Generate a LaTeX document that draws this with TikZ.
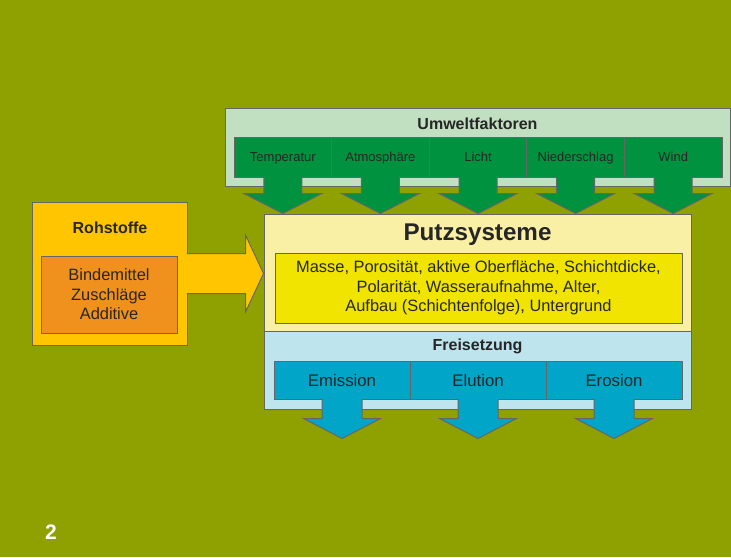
\documentclass[tikz,border=0pt]{standalone}
\usepackage{fontspec}
\setmainfont{Liberation Sans}
\usetikzlibrary{positioning}

\definecolor{olivebg}{RGB}{143,161,0}
\definecolor{umweltlight}{RGB}{193,223,193}
\definecolor{umweltgreen}{RGB}{0,146,63}
\definecolor{putzlight}{RGB}{250,240,165}
\definecolor{putzyellow}{RGB}{240,228,0}
\definecolor{freilight}{RGB}{190,228,238}
\definecolor{freiblue}{RGB}{0,165,200}
\definecolor{rohyellow}{RGB}{255,198,0}
\definecolor{rohorange}{RGB}{240,145,30}

\begin{document}
\begin{tikzpicture}[x=0.5pt,y=-0.5pt,font=\fontsize{8.2}{9.75}\selectfont,
    % styles
    frame/.style={draw=black!60,line width=0.5pt,inner sep=0pt,text=black!85},
    title/.style={font=\fontsize{8}{9.75}\selectfont\bfseries,text=black!85},
    umwelt box/.style={frame,fill=umweltlight,minimum width=252.5pt,minimum height=39pt},
    factor box/.style={frame,fill=umweltgreen,minimum width=48.8pt,minimum height=20pt,
      font=\fontsize{6.5}{7}\selectfont,text height=4.7pt,text depth=0pt},
    putz box/.style={frame,fill=putzlight,minimum width=213.5pt,minimum height=58.5pt},
    property box/.style={frame,fill=putzyellow,minimum width=203.5pt,minimum height=35pt,
      align=center},
    frei box/.style={frame,fill=freilight,minimum width=213.5pt,minimum height=39pt},
    release box/.style={frame,fill=freiblue,minimum width=68pt,minimum height=19pt,
      font=\fontsize{8.4}{9}\selectfont,text height=6pt,text depth=0pt},
    roh box/.style={frame,fill=rohyellow,minimum width=77.5pt,minimum height=71.5pt},
    material box/.style={frame,fill=rohorange,minimum width=68pt,minimum height=38.5pt,
      align=center},
    block arrow/.style={draw=black!60,line width=0.5pt,line join=miter}]

  % background
  \fill[olivebg] (0,0) rectangle (731,557);

  % environment factors
  \node[umwelt box] (umwelt) at (477.5,147) {};
  \node[title] (umwelttitle) at (477.5,124) {Umweltfaktoren};
  \foreach \lbl [count=\i] in {Temperatur,Atmosphäre,Licht,Niederschlag,Wind}
    \node[factor box] (g\i) at ({234+48.8*(2*\i-1)},157) {\lbl};

  % raw materials
  \node[roh box] (roh) at (109.5,273.5) {};
  \node[title] (rohtitle) at (110,228) {Rohstoffe};
  \node[material box] (material) at (109,294.5) {Bindemittel\\Zuschläge\\Additive};

  % plaster system
  \node[putz box] (putz) at (477.5,272.5) {};
  \node[title,font=\fontsize{12.1}{14}\selectfont\bfseries] (putztitle) at (477.5,235) {Putzsysteme};
  \node[property box] (props) at (478.5,288)
    {Masse, Porosität, aktive Oberfläche, Schichtdicke,\\
     Polarität, Wasseraufnahme, Alter,\\
     Aufbau (Schichtenfolge), Untergrund};

  % release
  \node[frei box] (frei) at (477.5,370) {};
  \node[title] (freititle) at (477.5,346) {Freisetzung};
  \foreach \lbl [count=\i] in {Emission,Elution,Erosion}
    \node[release box] (b\i) at ({274+68*(2*\i-1)},380) {\lbl};

  % arrows into the plaster system
  \foreach \i in {1,...,5} {
    \coordinate (tip\i) at (g\i.south |- putz.north);
    \filldraw[block arrow,fill=umweltgreen] ([xshift=9.5pt,yshift=0.3pt]g\i.south)
      -- ([xshift=9.5pt,yshift=10pt]tip\i) -- ([xshift=19.5pt,yshift=10pt]tip\i)
      -- (tip\i) -- ([xshift=-19.5pt,yshift=10pt]tip\i)
      -- ([xshift=-9.5pt,yshift=10pt]tip\i) -- ([xshift=-9.5pt,yshift=0.3pt]g\i.south);
  }
  \coordinate (rtip) at (roh.east -| putz.west);
  \filldraw[block arrow,fill=rohyellow] ([xshift=-0.3pt,yshift=10pt]roh.east)
    -- ([xshift=-9pt,yshift=10pt]rtip) -- ([xshift=-9pt,yshift=19.25pt]rtip)
    -- (rtip) -- ([xshift=-9pt,yshift=-19.25pt]rtip)
    -- ([xshift=-9pt,yshift=-10pt]rtip) -- ([xshift=-0.3pt,yshift=-10pt]roh.east);

  % arrows out of the release box
  \foreach \i in {1,2,3} {
    \coordinate (out\i) at ([yshift=-19.5pt]b\i.south);
    \filldraw[block arrow,fill=freiblue] ([xshift=10pt,yshift=0.3pt]b\i.south)
      -- ([xshift=10pt,yshift=10pt]out\i) -- ([xshift=19.25pt,yshift=10pt]out\i)
      -- (out\i) -- ([xshift=-19.25pt,yshift=10pt]out\i)
      -- ([xshift=-10pt,yshift=10pt]out\i) -- ([xshift=-10pt,yshift=0.3pt]b\i.south);
  }

  % page number
  \node[font=\fontsize{10.5}{12}\selectfont\bfseries,text=white] (pagenum) at (51,532) {2};
\end{tikzpicture}
\end{document}
